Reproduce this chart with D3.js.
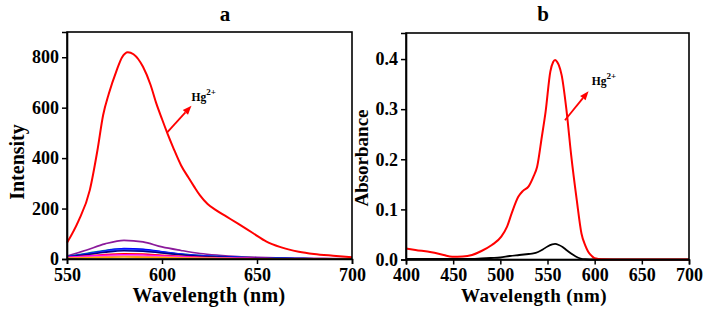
<!DOCTYPE html>
<html>
<head>
<meta charset="utf-8">
<script src="https://cdn.jsdelivr.net/npm/d3@7"></script>
<style>
  body { margin: 0; background: #fff; }
  svg { display: block; }
  text { font-family: 'Liberation Serif', 'Times New Roman', serif; font-weight: bold; }
</style>
</head>
<body>
<svg id="chart" width="711" height="315"></svg>
<script>
// panel a: fluorescence spectra
var flWl = [550, 556, 562, 566, 569, 572, 576, 579, 582, 585, 590, 594, 597, 600, 603, 606, 610, 614, 617, 620, 624, 628, 634, 640, 648, 655, 662, 672, 680, 690, 700];
var flHg = [64, 150, 273, 430, 570, 655, 745, 800, 820, 812, 762, 690, 617, 555, 495, 440, 372, 322, 286, 252, 218, 196, 168, 140, 102, 69, 48, 29, 20, 13, 7];

var flWlSmall = [550, 560, 570, 580, 590, 600, 610, 620, 630, 640, 650, 660, 670, 680, 690, 700];
var flOthers = [
  { color: '#8b1a9b', values: [12, 35, 60, 74, 68, 48, 34, 22, 15, 10, 7, 5, 4, 3, 2, 1] },
  { color: '#008b8b', values: [10, 22, 34, 40, 37, 28, 20, 14, 10, 7, 5, 3, 2, 1, 0.5, 0] },
  { color: '#0000ff', values: [9, 20, 32, 41, 38, 29, 20, 14, 10, 7, 4, 3, 2, 1, 0.5, 0] },
  { color: '#1e3cff', values: [8, 18, 30, 37, 34, 26, 18, 12, 8, 5, 3, 2, 1, 0.5, 0, 0] },
  { color: '#000080', values: [8, 17, 27, 33, 31, 24, 17, 11, 8, 5, 3, 2, 1, 0.5, 0, 0] },
  { color: '#ff0000', values: [6, 12, 18, 21, 20, 15, 11, 7, 5, 3, 2, 1, 0.5, 0, 0, 0] },
  { color: '#ff00ff', values: [7, 11, 15, 17, 16, 12, 9, 6, 4, 3, 2, 1, 0.5, 0, 0, 0] },
  { color: '#ff69b4', values: [4, 7, 10, 12, 11, 9, 6, 4, 3, 2, 1, 0.5, 0, 0, 0, 0] },
  { color: '#ffa500', values: [3, 5, 7, 8, 7, 6, 4, 3, 2, 1, 1, 0.5, 0, 0, 0, 0] }
];

// panel b: absorption spectra
var abWl = [400, 410, 427, 440, 449, 460, 470, 480, 491, 501, 507, 512, 519, 524, 530, 535, 539, 544, 548, 553, 556, 558, 560, 562, 565, 570, 575, 581, 586, 590, 593, 597, 600, 605, 610, 620, 650, 700];
var abHg = [0.022, 0.019, 0.0144, 0.009, 0.0056, 0.006, 0.009, 0.017, 0.029, 0.0455, 0.065, 0.092, 0.125, 0.137, 0.146, 0.165, 0.185, 0.245, 0.295, 0.375, 0.394, 0.398, 0.395, 0.388, 0.368, 0.30, 0.21, 0.119, 0.052, 0.028, 0.016, 0.007, 0.0024, 0.001, 0.0003, 0, 0, 0];
var abWlFree = [400, 450, 470, 480, 490, 500, 510, 520, 530, 535, 540, 545, 550, 555, 558, 562, 566, 570, 575, 580, 585, 590, 600, 700];
var abFree = [0.001, 0.001, 0.001, 0.002, 0.003, 0.004, 0.007, 0.009, 0.011, 0.012, 0.015, 0.02, 0.026, 0.030, 0.031, 0.029, 0.025, 0.019, 0.012, 0.006, 0.002, 0.0005, 0, 0];

var aXTicks = [550, 600, 650, 700];
var aYTicks = [0, 200, 400, 600, 800];
var bXTicks = [400, 450, 500, 550, 600, 650, 700];
var bYTicks = [0, 0.1, 0.2, 0.3, 0.4];

var svg = d3.select('#chart');

function zip(xs, ys) {
  return xs.map(function (x, i) { return [x, ys[i]]; });
}

function drawPanel(opt) {
  var x = d3.scaleLinear().domain(opt.xDomain).range([opt.left, opt.right]);
  var y = d3.scaleLinear().domain(opt.yDomain).range([opt.bottom, opt.top]);
  var g = svg.append('g');

  var line = d3.line()
    .x(function (d) { return x(d[0]); })
    .y(function (d) { return y(d[1]); })
    .curve(d3.curveMonotoneX);

  opt.series.forEach(function (s) {
    g.append('path')
      .attr('d', line(s.points))
      .attr('fill', 'none')
      .attr('stroke', s.color)
      .attr('stroke-width', s.width || 1.8);
  });

  // frame
  g.append('rect')
    .attr('x', opt.left).attr('y', opt.top)
    .attr('width', opt.right - opt.left).attr('height', opt.bottom - opt.top)
    .attr('fill', 'none').attr('stroke', '#000').attr('stroke-width', 1.6);

  var xAxis = g.append('g')
    .attr('transform', 'translate(0,' + opt.bottom + ')')
    .call(d3.axisBottom(x).tickValues(opt.xTicks).tickSize(5).tickPadding(4).tickFormat(d3.format('d')));
  var yAxis = g.append('g')
    .attr('transform', 'translate(' + opt.left + ',0)')
    .call(d3.axisLeft(y).tickValues(opt.yTicks).tickSize(5).tickPadding(3).tickFormat(opt.yFormat));
  [xAxis, yAxis].forEach(function (ax) {
    ax.select('.domain').attr('stroke-width', 1.6);
    ax.selectAll('.tick line').attr('stroke-width', 1.5);
    ax.selectAll('text')
      .attr('font-family', "'Liberation Serif', serif")
      .attr('font-size', 18).attr('font-weight', 'bold').attr('fill', '#000');
  });

  g.append('text')
    .attr('x', opt.titleX).attr('y', 21)
    .attr('text-anchor', 'middle').attr('font-size', 21)
    .text(opt.title);

  g.append('text')
    .attr('x', opt.xLabelX).attr('y', 302)
    .attr('text-anchor', 'middle').attr('font-size', opt.xLabelSize)
    .attr('letter-spacing', 0.4)
    .text('Wavelength (nm)');

  g.append('text')
    .attr('transform', 'translate(' + opt.yLabelX + ',' + opt.yLabelY + ') rotate(-90)')
    .attr('text-anchor', 'middle').attr('font-size', opt.yLabelSize)
    .text(opt.yLabel);

  // Hg2+ arrow annotation
  var a0 = [x(opt.arrow[0][0]), y(opt.arrow[0][1])];
  var a1 = [x(opt.arrow[1][0]), y(opt.arrow[1][1])];
  var ang = Math.atan2(a1[1] - a0[1], a1[0] - a0[0]);
  var hl = 9, hw = 3.5;
  var base = [a1[0] - hl * Math.cos(ang), a1[1] - hl * Math.sin(ang)];
  g.append('line')
    .attr('x1', a0[0]).attr('y1', a0[1]).attr('x2', base[0]).attr('y2', base[1])
    .attr('stroke', '#ff0000').attr('stroke-width', 1.8);
  g.append('path')
    .attr('d', 'M' + a1[0] + ',' + a1[1] +
      'L' + (base[0] + hw * Math.sin(ang)) + ',' + (base[1] - hw * Math.cos(ang)) +
      'L' + (base[0] - hw * Math.sin(ang)) + ',' + (base[1] + hw * Math.cos(ang)) + 'Z')
    .attr('fill', '#ff0000');

  var t = g.append('text')
    .attr('x', x(opt.label[0])).attr('y', y(opt.label[1]))
    .attr('font-size', 11.5);
  t.append('tspan').text('Hg');
  t.append('tspan').attr('dy', -6).attr('font-size', 9).text('2+');
}

var aSeries = flOthers.map(function (s) {
  return { color: s.color, points: zip(flWlSmall, s.values), width: 1.6 };
});
aSeries.push({ color: '#ff0000', points: zip(flWl, flHg), width: 2 });

drawPanel({
  left: 67, right: 352, top: 32, bottom: 259,
  xDomain: [550, 700], yDomain: [0, 900],
  xTicks: aXTicks, yTicks: aYTicks, yFormat: d3.format('d'),
  series: aSeries,
  title: 'a', titleX: 225,
  xLabelX: 209, xLabelSize: 20,
  yLabel: 'Intensity', yLabelX: 24, yLabelY: 162, yLabelSize: 20,
  arrow: [[602.5, 500], [615.5, 608]],
  label: [615.5, 625]
});

drawPanel({
  left: 406, right: 689, top: 33, bottom: 259.5,
  xDomain: [400, 700], yDomain: [0, 0.452],
  xTicks: bXTicks, yTicks: bYTicks, yFormat: d3.format('.1f'),
  series: [
    { color: '#000000', points: zip(abWlFree, abFree), width: 1.8 },
    { color: '#ff0000', points: zip(abWl, abHg), width: 2 }
  ],
  title: 'b', titleX: 543,
  xLabelX: 534, xLabelSize: 19,
  yLabel: 'Absorbance', yLabelX: 368, yLabelY: 158, yLabelSize: 19,
  arrow: [[568.5, 0.278], [593.5, 0.336]],
  label: [597, 0.348]
});
</script>
</body>
</html>
